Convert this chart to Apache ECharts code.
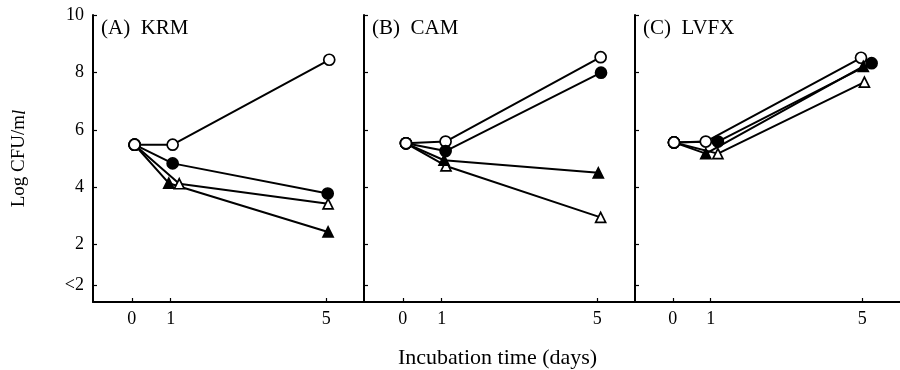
<!DOCTYPE html>
<html>
<head>
<meta charset="utf-8">
<script src="https://cdn.jsdelivr.net/npm/echarts@6/dist/echarts.min.js"></script>
<style>
  html, body { margin: 0; padding: 0; background: #fff; }
  #chart { width: 900px; height: 370px; }
</style>
</head>
<body>
<div id="chart"></div>
<script>
// panel titles and axis ticks
const panelTitles = ['(A)  KRM', '(B)  CAM', '(C)  LVFX'];
const xTicks = [0, 1, 5];
const yTickValues = [0.6, 2, 4, 6, 8, 10];
const yTickLabels = ['<2', '2', '4', '6', '8', '10'];

// series order in every panel: open circle, filled circle, open triangle, filled triangle
const markerKinds = ['openCircle', 'filledCircle', 'openTriangle', 'filledTriangle'];

// (A) KRM  -- x is the plotted day (points are nudged apart in the figure)
const krmX = [[0.07, 1.05, 5.08], [0.07, 1.05, 5.04], [0.07, 1.22, 5.05], [0.07, 0.95, 5.05]];
const krmY = [[5.48, 5.48, 8.44], [5.48, 4.83, 3.78], [5.48, 4.12, 3.42], [5.48, 4.14, 2.44]];

// (B) CAM
const camX = [[0.08, 1.1, 5.09], [0.08, 1.1, 5.1], [0.08, 1.11, 5.09], [0.08, 1.06, 5.03]];
const camY = [[5.53, 5.59, 8.53], [5.53, 5.26, 7.99], [5.53, 4.74, 2.95], [5.53, 4.94, 4.5]];

// (C) LVFX
const lvfxX = [[0.03, 0.87, 4.97], [0.03, 1.19, 5.25], [0.03, 1.19, 5.06], [0.03, 0.87, 5.03]];
const lvfxY = [[5.56, 5.59, 8.51], [5.56, 5.59, 8.32], [5.56, 5.17, 7.66], [5.56, 5.17, 8.21]];

const panelX = [krmX, camX, lvfxX];
const panelY = [krmY, camY, lvfxY];

const FONT = 'Liberation Serif';
const gridLefts = [93, 364, 635];

const markerStyle = {
  openCircle: { symbol: 'circle', size: 11, fill: '#fff' },
  filledCircle: { symbol: 'circle', size: 11, fill: '#000' },
  openTriangle: { symbol: 'triangle', size: 10, fill: '#fff' },
  filledTriangle: { symbol: 'triangle', size: 10, fill: '#000' }
};

const grids = gridLefts.map(l => ({ left: l, width: 272, top: 15, height: 287 }));

const xAxes = gridLefts.map((l, i) => ({
  type: 'value',
  gridIndex: i,
  min: -1,
  max: 6,
  splitLine: { show: false },
  axisLine: { onZero: false, lineStyle: { color: '#000', width: 2 } },
  axisTick: { inside: true, length: 4, customValues: xTicks, lineStyle: { color: '#000', width: 1.2 } },
  axisLabel: { customValues: xTicks, color: '#000', fontFamily: FONT, fontSize: 18, margin: 8 }
}));

const yAxes = gridLefts.map((l, i) => ({
  type: 'value',
  gridIndex: i,
  min: 0,
  max: 10,
  splitLine: { show: false },
  axisLine: { show: true, onZero: false, lineStyle: { color: '#000', width: 2 } },
  axisTick: { show: true, inside: true, length: 4, customValues: yTickValues, lineStyle: { color: '#000', width: 1.2 } },
  axisLabel: {
    show: i === 0,
    customValues: yTickValues,
    color: '#000', fontFamily: FONT, fontSize: 18, margin: 9,
    formatter: v => yTickLabels[yTickValues.indexOf(v)]
  },
  name: i === 0 ? '{n|Log CFU/m}{i|l}' : '',
  nameLocation: 'middle',
  nameRotate: 90,
  nameGap: 64,
  nameTextStyle: {
    rich: {
      n: { fontFamily: FONT, fontSize: 19, color: '#000' },
      i: { fontFamily: FONT, fontSize: 19, fontStyle: 'italic', color: '#000' }
    }
  }
}));

const series = [];
panelX.forEach((xs, p) => {
  xs.forEach((xRow, s) => {
    const m = markerStyle[markerKinds[s]];
    series.push({
      type: 'line',
      xAxisIndex: p,
      yAxisIndex: p,
      symbol: m.symbol,
      symbolSize: m.size,
      lineStyle: { color: '#000', width: 2 },
      itemStyle: { color: m.fill, borderColor: '#000', borderWidth: 1.7, opacity: 1 },
      emphasis: { disabled: true },
      animation: false,
      data: xRow.map((x, k) => {
        const item = { value: [x, panelY[p][s][k]] };
        if (k === 0) {
          // every curve starts from the same open-circle inoculum
          item.symbol = 'circle';
          item.symbolSize = 11;
          item.itemStyle = { color: '#fff' };
        }
        return item;
      })
    });
  });
});

const chart = echarts.init(document.getElementById('chart'));
chart.setOption({
  backgroundColor: '#fff',
  animation: false,
  title: panelTitles.map((t, i) => ({
    text: t,
    left: gridLefts[i] + 8,
    top: 18,
    padding: 0,
    textStyle: { fontFamily: FONT, fontSize: 21, fontWeight: 'normal', color: '#000' }
  })).concat([{
    text: 'Incubation time (days)',
    left: 398,
    top: 347,
    padding: 0,
    textStyle: { fontFamily: FONT, fontSize: 22, fontWeight: 'normal', color: '#000' }
  }]),
  grid: grids,
  xAxis: xAxes,
  yAxis: yAxes,
  series: series
});
</script>
</body>
</html>
